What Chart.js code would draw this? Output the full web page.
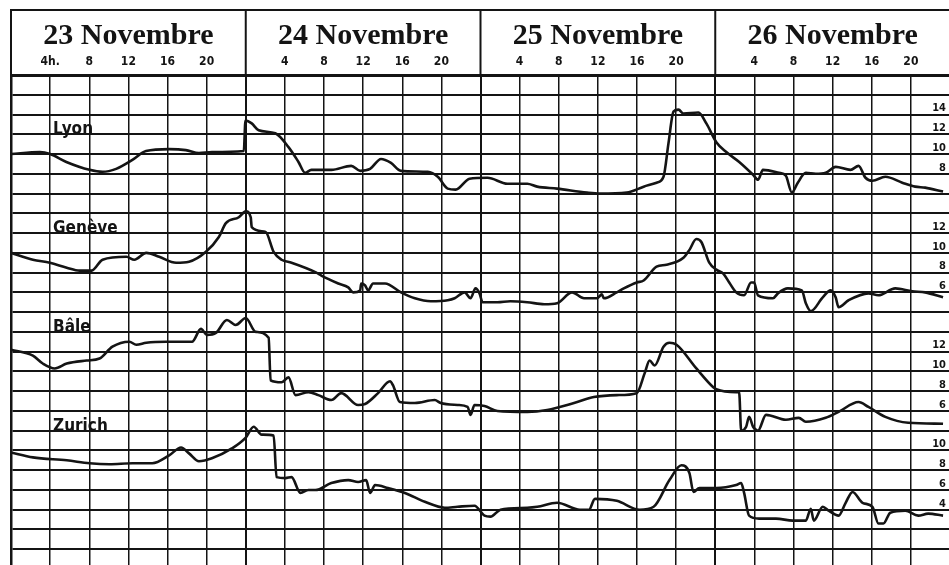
<!DOCTYPE html>
<html lang="fr">
<head>
<meta charset="UTF-8">
<title>23 - 26 Novembre</title>
<script src="https://cdn.jsdelivr.net/npm/chart.js"></script>
<style>
  html, body { margin: 0; padding: 0; background: #fff; overflow: hidden; }
  /* a bit wider/taller than the window: the grid runs off the right and bottom edges */
  .chart-box { position: relative; width: 956px; height: 570px; }
</style>
</head>
<body>
<div class="chart-box"><canvas id="chart"></canvas></div>
<script>
// header
const dayTitles = ['23 Novembre', '24 Novembre', '25 Novembre', '26 Novembre'];
const dayCenters = [12, 36, 60, 84];
const dayStarts = [0, 24, 48, 72];
const hourLabels = ['4', '8', '12', '16', '20'];

// right-hand scale of each station (2 units per grid row)
const lyonTicks = [14, 12, 10, 8];
const geneveTicks = [12, 10, 8, 6];
const baleTicks = [12, 10, 8, 6];
const zurichTicks = [10, 8, 6, 4];
const rowCount = 25;
const unitsPerRow = 2;
// value read on the top line of the grid for each station
const lyonTop = 18, geneveTop = 28, baleTop = 40, zurichTop = 48;

// traces (hours from 23 Nov 0h)
const lyonHours = [0, 2.95, 4.0, 5.66, 8.03, 9.36, 10.75, 12.41, 13.8, 16.17, 17.87, 19.22, 20.54, 23.8, 23.97,
  24.61, 25.32, 27.02, 28.37, 29.39, 30.07, 30.71, 32.75, 34.78, 35.7, 36.71, 37.83, 38.85, 39.87, 42.61,
  43.63, 44.65, 45.46, 46.88, 48.71, 50.75, 52.78, 53.8, 55.83, 58.88, 60.21, 62.95, 64.68, 66.0, 66.71,
  67.22, 67.73, 68.24, 68.75, 70.28, 71.09, 72.11, 73.13, 74.45, 75.87, 76.37, 76.88, 78.51, 79.22, 79.83,
  80.44, 81.26, 82.27, 83.29, 84.31, 85.83, 86.65, 87.36, 88.07, 89.39, 91.12, 92.44, 93.46, 95.29];
const lyonValues = [10.0, 10.2, 10.0, 9.2, 8.4, 8.2, 8.5, 9.4, 10.3, 10.5, 10.4, 10.1, 10.2, 10.3, 13.4,
  13.1, 12.4, 12.1, 10.7, 9.2, 8.1, 8.4, 8.4, 8.8, 8.3, 8.5, 9.5, 9.1, 8.3, 8.2,
  7.7, 6.5, 6.4, 7.5, 7.6, 7.0, 7.0, 6.7, 6.5, 6.1, 6.0, 6.1, 6.7, 7.1, 7.7,
  11.1, 14.3, 14.5, 14.1, 14.2, 13.1, 11.2, 10.2, 9.2, 7.9, 7.4, 8.4, 8.1, 7.8, 6.1,
  7.1, 8.1, 8.0, 8.1, 8.7, 8.4, 8.8, 7.6, 7.3, 7.7, 7.1, 6.7, 6.6, 6.2];

const geneveHours = [0, 2.24, 3.97, 5.7, 7.02, 8.24, 9.36, 11.8, 12.61, 13.83, 15.15, 16.88, 18.2, 19.93, 21.25,
  21.97, 23.29, 24.0, 24.51, 24.61, 26.03, 26.85, 27.66, 28.68, 31.22, 31.73, 33.46, 34.48, 34.98, 35.7,
  35.8, 36.2, 36.51, 37.02, 38.24, 39.87, 41.29, 42.92, 44.65, 45.36, 46.37, 46.98, 47.49, 47.9, 48.21,
  49.73, 51.05, 52.78, 54.51, 55.83, 57.36, 58.58, 59.9, 60.41, 60.61, 61.93, 62.65, 63.97, 64.68, 66.0,
  67.02, 68.75, 69.36, 70.07, 70.58, 71.39, 72.11, 72.82, 73.43, 74.14, 74.95, 75.66, 75.97, 76.37, 77.9,
  78.41, 79.42, 80.85, 81.26, 81.77, 82.99, 83.8, 84.31, 84.61, 85.63, 87.66, 88.68, 90.41, 92.14, 93.46, 95.29];
const geneveValues = [10.0, 9.3, 9.0, 8.5, 8.2, 8.2, 9.3, 9.6, 9.3, 10.0, 9.6, 9.0, 9.1, 10.1, 11.6,
  13.0, 13.6, 14.2, 13.6, 12.6, 12.1, 10.1, 9.3, 9.0, 8.0, 7.7, 6.9, 6.5, 6.0, 6.2,
  6.9, 6.7, 6.2, 6.9, 6.9, 6.0, 5.4, 5.1, 5.2, 5.4, 6.0, 5.4, 6.4, 5.9, 5.0,
  5.0, 5.1, 5.0, 4.8, 4.9, 6.0, 5.4, 5.4, 5.8, 5.4, 6.0, 6.4, 7.0, 7.2, 8.6,
  8.8, 9.5, 10.3, 11.4, 11.1, 9.0, 8.3, 7.9, 7.0, 6.0, 5.7, 7.0, 7.0, 5.7, 5.4,
  5.9, 6.4, 6.2, 4.9, 4.1, 5.5, 6.2, 5.5, 4.5, 5.2, 5.9, 5.7, 6.4, 6.1, 6.0, 5.5];

const baleHours = [0, 2.24, 3.25, 4.47, 5.7, 7.73, 9.05, 10.37, 12.1, 12.81, 13.83, 15.87, 18.51, 19.42, 20.03,
  20.95, 22.07, 22.98, 24.0, 25.02, 26.34, 26.54, 27.66, 28.37, 29.09, 30.41, 31.42, 32.75, 33.76, 35.49,
  36.2, 37.53, 38.75, 39.05, 39.76, 41.29, 43.32, 43.93, 45.66, 46.68, 46.98, 47.39, 48.41, 49.73, 52.78,
  54.82, 57.56, 59.59, 61.93, 63.97, 64.78, 65.29, 65.8, 66.71, 67.32, 68.04, 70.07, 71.8, 72.11, 74.14,
  74.44, 74.65, 75.16, 75.46, 75.87, 76.37, 77.19, 79.22, 80.54, 81.26, 83.29, 84.61, 86.65, 87.66, 89.39,
  91.73, 95.29];
const baleValues = [12.2, 11.6, 10.8, 10.3, 10.8, 11.1, 11.3, 12.5, 13.0, 12.7, 12.9, 13.0, 13.0, 14.3, 13.7,
  13.9, 15.2, 14.7, 15.4, 14.0, 13.4, 9.1, 8.9, 9.4, 7.6, 7.9, 7.6, 7.1, 7.8, 6.6,
  6.7, 7.8, 9.0, 8.6, 6.9, 6.8, 7.1, 6.8, 6.6, 6.4, 5.6, 6.6, 6.5, 6.0, 5.9,
  6.1, 6.8, 7.4, 7.6, 7.8, 9.8, 11.1, 10.6, 12.5, 12.9, 12.7, 10.3, 8.4, 8.2, 7.9,
  7.9, 4.0, 4.4, 5.4, 4.4, 4.0, 5.6, 5.1, 5.3, 4.9, 5.3, 5.9, 6.9, 6.4, 5.4,
  4.8, 4.7];

const zurichHours = [0, 2.24, 5.7, 8.03, 10.07, 12.41, 14.44, 16.17, 17.39, 18.2, 19.22, 20.54, 22.58, 24.0, 24.81,
  25.63, 26.85, 27.15, 28.07, 28.68, 29.59, 30.41, 31.12, 32.75, 34.48, 35.49, 36.31, 36.71, 37.22, 38.54,
  40.27, 42.31, 44.34, 45.66, 47.39, 48.41, 49.02, 50.04, 52.78, 53.8, 55.83, 58.17, 59.09, 59.7, 61.93,
  64.27, 65.7, 67.32, 68.54, 69.36, 69.77, 70.38, 72.11, 74.14, 74.65, 74.95, 75.46, 76.48, 78.21, 79.94,
  81.26, 81.77, 82.07, 82.99, 83.6, 84.61, 85.33, 86.04, 87.06, 88.07, 88.68, 89.19, 89.9, 91.43, 92.75,
  93.77, 95.29];
const zurichValues = [9.8, 9.3, 9.0, 8.7, 8.6, 8.7, 8.7, 9.5, 10.3, 9.7, 8.9, 9.2, 10.2, 11.3, 12.4,
  11.6, 11.5, 7.3, 7.2, 7.3, 5.7, 6.0, 6.0, 6.7, 7.0, 6.8, 7.0, 5.7, 6.5, 6.2,
  5.7, 4.8, 4.2, 4.3, 4.4, 3.4, 3.3, 4.0, 4.2, 4.3, 4.7, 4.0, 4.0, 5.1, 4.9,
  4.0, 4.3, 7.0, 8.5, 7.7, 5.8, 6.2, 6.2, 6.5, 6.7, 5.7, 3.4, 3.1, 3.1, 2.9,
  2.9, 4.1, 2.9, 4.3, 3.9, 3.4, 4.7, 5.8, 4.7, 4.3, 2.6, 2.6, 3.7, 3.9, 3.4,
  3.6, 3.4];

const ink = '#141414';

function points(hours, values) {
  return hours.map((h, i) => ({ x: h, y: values[i] }));
}

function trace(label, axis, hours, values, nameRow) {
  return {
    label: label,
    yAxisID: axis,
    data: points(hours, values),
    borderColor: ink,
    borderWidth: 2.6,
    pointRadius: 0,
    cubicInterpolationMode: 'monotone',
    nameRow: nameRow
  };
}

// right-hand scale for one station, drawn inside the grid
function stationAxis(top, ticks) {
  return {
    type: 'linear',
    position: 'right',
    min: top - rowCount * unitsPerRow,
    max: top,
    afterBuildTicks: axis => { axis.ticks = ticks.map(v => ({ value: v })); },
    afterFit: axis => {
      // no room taken: labels sit inside the grid
      axis.width = 0;
      axis.paddingTop = 0;
      axis.paddingBottom = 0;
    },
    grid: { display: false, drawTicks: false },
    border: { display: false },
    ticks: {
      mirror: true,
      padding: -4,
      labelOffset: -6,
      color: ink,
      font: { family: '"DejaVu Sans Condensed", "DejaVu Sans"', size: 11, weight: 'bold' }
    }
  };
}

// header frame and station names
const frameAndNames = {
  id: 'frameAndNames',
  afterDraw(chart) {
    const ctx = chart.ctx;
    const x = chart.scales.x;
    const area = chart.chartArea;
    const top = chart.scales.xDay.top;
    ctx.save();
    ctx.strokeStyle = ink;
    ctx.lineWidth = 2;
    ctx.beginPath();
    ctx.moveTo(area.left - 1, top);
    ctx.lineTo(area.right, top);
    dayStarts.forEach(h => {
      const px = x.getPixelForValue(h);
      ctx.moveTo(px, top);
      ctx.lineTo(px, area.top);
    });
    ctx.stroke();

    ctx.fillStyle = ink;
    ctx.font = 'bold 17px "DejaVu Sans Condensed", "DejaVu Sans"';
    ctx.textAlign = 'left';
    ctx.textBaseline = 'alphabetic';
    chart.data.datasets.forEach(ds => {
      ctx.fillText(ds.label, x.getPixelForValue(4.3), chart.scales.yGrid.getPixelForValue(ds.nameRow));
    });
    ctx.restore();
  }
};

new Chart(document.getElementById('chart'), {
  type: 'line',
  data: {
    datasets: [
      trace('Lyon', 'yLyon', lyonHours, lyonValues, 3),
      trace('Genève', 'yGeneve', geneveHours, geneveValues, 8),
      trace('Bâle', 'yBale', baleHours, baleValues, 13),
      trace('Zurich', 'yZurich', zurichHours, zurichValues, 18)
    ]
  },
  options: {
    responsive: true,
    maintainAspectRatio: false,
    animation: false,
    layout: { padding: { top: 10, left: 11, right: 1, bottom: 1 } },
    plugins: { legend: { display: false }, tooltip: { enabled: false } },
    scales: {
      x: {
        type: 'linear',
        position: 'top',
        min: 0,
        max: 96,
        afterFit: axis => { axis.height = 28; },
        ticks: {
          stepSize: 4,
          autoSkip: false,
          maxRotation: 0,
          padding: 6,
          color: ink,
          font: { family: '"DejaVu Sans Condensed", "DejaVu Sans"', size: 12, weight: 'bold' },
          callback: v => {
            const h = v % 24;
            if (h === 0) return '';
            const lbl = hourLabels[h / 4 - 1];
            return v === 4 ? lbl + 'h.' : lbl;
          }
        },
        grid: {
          color: ink,
          lineWidth: c => (c.tick && c.tick.value % 24 === 0 ? 2 : 1.5),
          drawTicks: false
        },
        border: { display: true, color: ink, width: 3 }
      },
      xDay: {
        type: 'linear',
        position: 'top',
        weight: 1,
        min: 0,
        max: 96,
        afterFit: axis => { axis.height = 37; },
        afterBuildTicks: axis => { axis.ticks = dayCenters.map(v => ({ value: v })); },
        ticks: {
          autoSkip: false,
          maxRotation: 0,
          padding: -7,
          color: ink,
          font: { family: '"Liberation Serif"', size: 30, weight: 'bold' },
          callback: (v, i) => dayTitles[i]
        },
        grid: { display: false, drawTicks: false },
        border: { display: false }
      },
      yGrid: {
        type: 'linear',
        position: 'left',
        reverse: true,
        min: 0,
        max: rowCount,
        afterFit: axis => { axis.width = 0; },
        ticks: { display: false, stepSize: 1 },
        grid: { color: ink, lineWidth: 2, drawTicks: false },
        border: { display: true, color: ink, width: 2.5 }
      },
      yLyon: stationAxis(lyonTop, lyonTicks),
      yGeneve: stationAxis(geneveTop, geneveTicks),
      yBale: stationAxis(baleTop, baleTicks),
      yZurich: stationAxis(zurichTop, zurichTicks)
    }
  },
  plugins: [frameAndNames]
});
</script>
</body>
</html>
